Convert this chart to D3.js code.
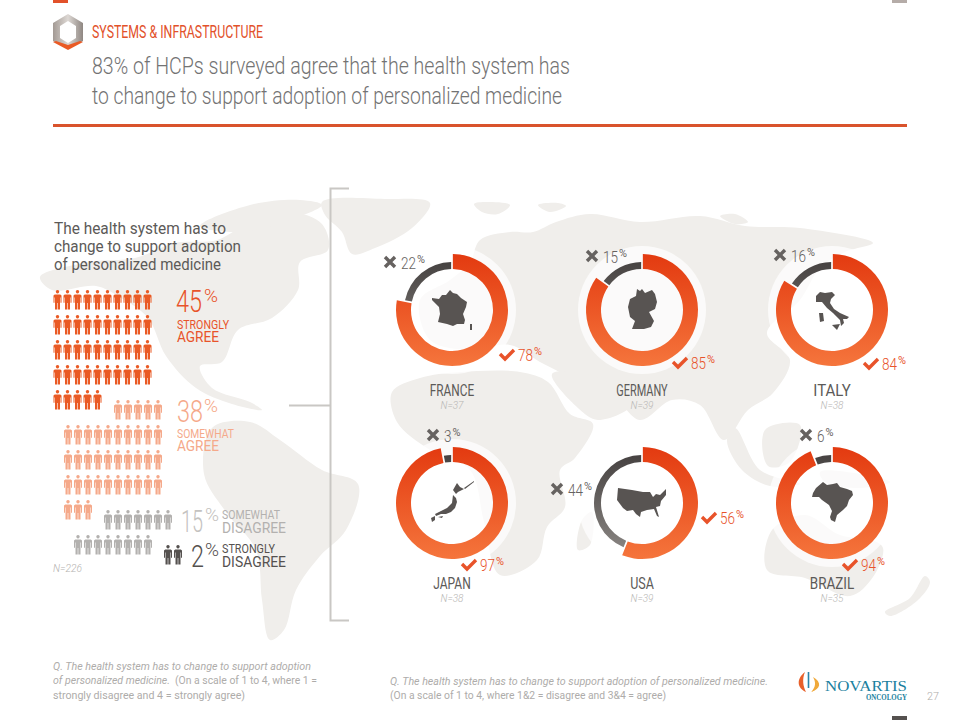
<!DOCTYPE html>
<html>
<head>
<meta charset="utf-8">
<title>Systems &amp; Infrastructure</title>
<script src="https://cdn.jsdelivr.net/npm/d3@7"></script>
<style>
    html, body { margin: 0; padding: 0; background: #fff; }
    svg { display: block; }
    text { font-family: "Roboto", sans-serif; font-weight: 300; }
</style>
</head>
<body>
<svg id="chart" width="960" height="720"></svg>
<script>
// survey values
var pictoNames = ["STRONGLY AGREE", "SOMEWHAT AGREE", "SOMEWHAT DISAGREE", "STRONGLY DISAGREE"];
var pictoValues = [45, 38, 15, 2];
var countries = ["FRANCE", "GERMANY", "ITALY", "JAPAN", "USA", "BRAZIL"];
var agreeValues = [78, 85, 84, 97, 56, 94];
var disagreeValues = [22, 15, 16, 3, 44, 6];
var sampleSizes = [37, 39, 38, 38, 39, 35];

var ORANGE = "#e8532a", SALMON = "#f5a98a", GREY = "#b3b1af", DARK = "#55514f";

var svg = d3.select("#chart");
var defs = svg.append("defs");
var line = d3.line().curve(d3.curveCatmullRomClosed.alpha(0.5));
var sharp = d3.line().curve(d3.curveLinearClosed);

// background world map, just a rough hand traced backdrop
var landOutlines = [
    // north america
    [[40, 277], [90, 262], [135, 258], [175, 243], [217, 240], [250, 222], [290, 212], [322, 224], [328, 250], [300, 262], [298, 290], [272, 318], [238, 330], [222, 362], [200, 366], [212, 388], [250, 402], [262, 410], [232, 404], [196, 388], [166, 356], [148, 318], [118, 296], [96, 286], [52, 290]],
    // greenland
    [[322, 202], [385, 199], [430, 203], [412, 228], [375, 248], [352, 254], [342, 232], [325, 215]],
    // canadian islands
    [[200, 226], [250, 205], [300, 200], [322, 205], [290, 220], [240, 232]],
    // south america
    [[212, 428], [250, 422], [280, 440], [322, 470], [358, 484], [346, 530], [320, 556], [296, 590], [284, 630], [270, 640], [262, 600], [256, 550], [226, 512], [204, 474]],
    // iceland and svalbard
    [[474, 204], [490, 202], [510, 205], [498, 214], [482, 212]],
    [[538, 205], [558, 203], [566, 206], [550, 212]],
    [[720, 216], [735, 214], [748, 222], [735, 224]],
    // europe and asia
    [[480, 240], [510, 232], [533, 232], [556, 222], [590, 214], [640, 222], [700, 216], [745, 226], [800, 228], [873, 243], [845, 252], [820, 268], [800, 300], [767, 333], [790, 360], [773, 393], [748, 410], [724, 440], [700, 405], [672, 400], [640, 420], [612, 398], [590, 416], [570, 380], [540, 362], [510, 345], [470, 350], [430, 340], [420, 300], [450, 280], [470, 262]],
    // africa
    [[397, 422], [392, 392], [420, 378], [460, 372], [520, 372], [548, 382], [570, 414], [593, 424], [575, 458], [560, 470], [565, 507], [547, 527], [537, 560], [500, 575], [484, 522], [470, 470], [430, 450]],
    // arabia
    [[552, 374], [600, 378], [632, 404], [598, 420], [578, 408]],
    // madagascar
    [[582, 520], [592, 512], [590, 545], [578, 550]],
    // indonesia and philippines
    [[727, 440], [735, 428], [760, 470], [800, 484], [770, 486], [742, 470]],
    [[765, 430], [800, 425], [790, 462], [768, 466]],
    [[820, 472], [860, 474], [890, 482], [860, 488], [825, 482]],
    // australia
    [[767, 570], [772, 530], [805, 515], [840, 535], [872, 540], [883, 548], [873, 577], [850, 596], [805, 578]],
    // new zealand
    [[885, 612], [910, 598], [925, 576], [930, 582], [918, 600], [890, 616]]
];

svg.append("g").selectAll("path")
    .data(landOutlines)
    .enter().append("path")
    .attr("d", function (d) { return line(d); })
    .attr("fill", "#f0eeeb");

// bits of page furniture
function rect(x, y, w, h, fill) {
    svg.append("rect").attr("x", x).attr("y", y).attr("width", w).attr("height", h).attr("fill", fill);
}
rect(53, 0, 15, 3, "#e2512a");
rect(892, 0, 15, 3, "#b5aca8");
rect(892, 716, 15, 4, "#55514f");
rect(53, 124, 854, 3, "#d9532c");

function label(str, x, y, size, fill, width, opts) {
    opts = opts || {};
    var t = svg.append("text")
        .attr("x", x)
        .attr("y", y)
        .attr("font-size", size)
        .attr("fill", fill)
        .attr("text-anchor", opts.anchor || "start")
        .text(str);
    if (opts.italic) t.attr("font-style", "italic");
    if (opts.weight) t.style("font-weight", opts.weight);
    if (opts.family) t.style("font-family", opts.family);
    if (width) t.attr("textLength", width).attr("lengthAdjust", "spacingAndGlyphs");
    return t;
}

// hexagon badge
var hexGrad = defs.append("linearGradient").attr("id", "hexGrad").attr("x1", 0).attr("x2", 1).attr("y1", 0).attr("y2", 0);
hexGrad.append("stop").attr("offset", 0).attr("stop-color", "#a39a94");
hexGrad.append("stop").attr("offset", 0.5).attr("stop-color", "#ddd8d4");
hexGrad.append("stop").attr("offset", 1).attr("stop-color", "#8f8782");
svg.append("path").attr("fill", "url(#hexGrad)").attr("fill-rule", "evenodd")
    .attr("d", "M68,14L83,23V41L68,49L53,41V23ZM68,21L60,26V38L68,43L76,38V26Z");
svg.append("path").attr("fill", "#ea5a24").attr("d", "M56,41L68,45L80,41L83,42L68,50L53,42Z");

label("SYSTEMS & INFRASTRUCTURE", 92, 38, 18, "#e2512a", 171, { weight: 400 });
label("83% of HCPs surveyed agree that the health system has", 92, 74, 23, "#737373", 478);
label("to change to support adoption of personalized medicine", 92, 104, 23, "#737373", 470);

// bracket between the left panel and the donuts
svg.append("path")
    .attr("d", "M349,188.5H330.5V620.5H349M289,405.5H330")
    .attr("fill", "none")
    .attr("stroke", "#c9c7c4")
    .attr("stroke-width", 2);

label("The health system has to", 54, 234, 16, "#5c5a58", 172, { weight: 400 });
label("change to support adoption", 54, 252, 16, "#5c5a58", 187, { weight: 400 });
label("of personalized medicine", 54, 270, 16, "#5c5a58", 167, { weight: 400 });

// pictogram, one little person for each percentage point
var pictoLayout = [
    { x0: 57.5, startCol: 0, y0: 290, fill: "#ea5a24" },
    { x0: 68, startCol: 5, y0: 400, fill: SALMON },
    { x0: 78, startCol: 3, y0: 510, fill: GREY },
    { x0: 168, startCol: 0, y0: 545, fill: DARK }
];
var personPath = "M0,0a1.7,1.7 0 1,1 -0.01,0Z" +
    "M-2.8,4.4H2.8L4,5.6V12.8H3V7.6H2.5V19.4H0.3V13H-0.3V19.4H-2.5V7.6H-3V12.8H-4V5.6Z";

var colScale = d3.scaleLinear().domain([0, 9]).range([0, 90]);
var rowScale = d3.scaleLinear().domain([0, 4]).range([0, 100]);

pictoValues.forEach(function (value, g) {
    var lay = pictoLayout[g];
    var people = d3.range(value).map(function (i) {
        var slot = i + lay.startCol;
        return { col: slot % 10, row: Math.floor(slot / 10) };
    });
    svg.append("g")
        .attr("class", "picto")
        .attr("data-name", pictoNames[g])
        .selectAll("path")
        .data(people)
        .enter().append("path")
        .attr("d", personPath)
        .attr("fill", lay.fill)
        .attr("transform", function (d) {
            return "translate(" + (lay.x0 + colScale(d.col)) + "," + (lay.y0 + rowScale(d.row)) + ")";
        });
});

label(pictoValues[0], 176, 312, 32, ORANGE, 26);
label("%", 204, 302, 19, ORANGE, 14);
label("STRONGLY", 177, 329, 13, ORANGE, 52, { weight: 400 });
label("AGREE", 177, 342, 15, ORANGE, 42, { weight: 400 });

label(pictoValues[1], 177, 422, 32, SALMON, 26);
label("%", 204, 412, 19, SALMON, 14);
label("SOMEWHAT", 177, 438, 13, SALMON, 57, { weight: 400 });
label("AGREE", 177, 451, 15, SALMON, 42, { weight: 400 });

label(pictoValues[2], 181, 532, 32, "#c4c2c0", 22);
label("%", 205, 521, 19, "#c4c2c0", 14);
label("SOMEWHAT", 222, 519, 13, GREY, 58, { weight: 400 });
label("DISAGREE", 222, 533, 15, GREY, 64, { weight: 400 });

label(pictoValues[3], 191, 567, 32, DARK, 13);
label("%", 205, 556, 19, DARK, 14);
label("STRONGLY", 222, 553, 13, DARK, 53, { weight: 400 });
label("DISAGREE", 222, 567, 15, DARK, 64, { weight: 400 });

label("N=226", 53, 572, 11, "#b5b3b1", 29, { italic: true });

// donuts
var xScale = d3.scalePoint().domain([0, 1, 2]).range([452, 832]);
var yScale = d3.scalePoint().domain([0, 1]).range([310, 503]);

var gradAgree = defs.append("linearGradient").attr("id", "gradAgree").attr("gradientUnits", "userSpaceOnUse")
    .attr("x1", 0).attr("x2", 0).attr("y1", -56).attr("y2", 56);
gradAgree.append("stop").attr("offset", 0).attr("stop-color", "#e33a10");
gradAgree.append("stop").attr("offset", 1).attr("stop-color", "#f5753c");
var gradNo = defs.append("linearGradient").attr("id", "gradNo").attr("gradientUnits", "userSpaceOnUse")
    .attr("x1", 0).attr("x2", 0).attr("y1", -50).attr("y2", 50);
gradNo.append("stop").attr("offset", 0).attr("stop-color", "#454140");
gradNo.append("stop").attr("offset", 1).attr("stop-color", "#8a8683");

var pie = d3.pie().sort(null).startAngle(0).endAngle(2 * Math.PI).value(function (d) { return d; });
var agreeArc = d3.arc().innerRadius(41).outerRadius(56).padAngle(0.03).padRadius(56);
var noArc = d3.arc().innerRadius(41).outerRadius(48).padAngle(0.03).padRadius(56);

// where the little x and check labels sit, relative to each donut centre
var noOffset = [[-62, -48], [-50, -54], [-52, -55], [-19, -68], [-85, -14], [-26, -68]];
var yesOffset = [[55, 45], [38, 53], [39, 54], [17, 62], [67, 15], [18, 62]];

// rough silhouettes, relative to the donut centre
var shapes = [
    [[[-2, -20], [1, -17], [5, -16], [9, -12], [15, -8], [14, -3], [11, 4], [13, 10], [12, 14], [5, 14], [1, 16], [-5, 14], [-14, 12], [-12, 4], [-13, -3], [-20, -10], [-20, -12], [-13, -11], [-10, -15], [-6, -15]], [[18, 14], [20, 14], [20, 20], [18, 20]]],
    [[[-5, -21], [-2, -19], [0, -21], [3, -17], [10, -20], [13, -16], [15, -8], [13, -1], [7, 2], [12, 11], [9, 17], [2, 19], [-10, 19], [-7, 11], [-12, 7], [-14, -3], [-12, -11], [-6, -14]]],
    [[[-16, -14], [-12, -18], [-7, -17], [0, -18], [3, -15], [-1, -11], [-2, -7], [2, -1], [8, 3], [17, 7], [15, 9], [11, 9], [12, 13], [9, 16], [8, 10], [1, 3], [-5, -2], [-10, -8], [-16, -8]], [[-13, 3], [-9, 3], [-8, 11], [-12, 12]], [[0, 15], [8, 14], [5, 20]]],
    [[[5, -20], [8, -16], [12, -14], [6, -11], [4, -9], [1, -13]], [[12, -15], [22, -22], [22, -21], [13, -14]], [[1, -8], [4, -5], [5, -1], [3, 5], [-1, 9], [-6, 11], [-11, 11], [-16, 13], [-17, 11], [-11, 8], [-5, 5], [0, 0]], [[-21, 15], [-17, 13], [-17, 17], [-20, 19]], [[-14, 14], [-9, 13], [-10, 15]]],
    [[[-24, -15], [-10, -13], [1, -11], [8, -11], [11, -6], [14, -9], [18, -8], [24, -14], [24, -8], [19, -2], [18, 3], [14, 4], [17, 14], [15, 13], [12, 6], [5, 7], [-1, 9], [-2, 14], [-6, 11], [-9, 7], [-15, 8], [-19, 5], [-25, -3]]],
    [[[-9, -21], [-5, -18], [1, -19], [5, -20], [8, -16], [15, -14], [20, -12], [21, -8], [17, -3], [15, 3], [11, 7], [5, 12], [3, 19], [-1, 17], [-2, 14], [0, 8], [-3, 2], [-10, -3], [-13, -6], [-20, -6], [-19, -10], [-16, -15]]]
];

function xIcon(x, y) {
    svg.append("path")
        .attr("d", "M-5,-5L5,5M5,-5L-5,5")
        .attr("transform", "translate(" + x + "," + y + ")")
        .attr("stroke", "#666260")
        .attr("stroke-width", 3.4)
        .attr("fill", "none");
}

function checkIcon(x, y) {
    svg.append("path")
        .attr("d", "M-7,-1L-2,4L7,-5")
        .attr("transform", "translate(" + x + "," + y + ")")
        .attr("stroke", ORANGE)
        .attr("stroke-width", 3.4)
        .attr("fill", "none");
}

countries.forEach(function (name, i) {
    var cx = xScale(i % 3);
    var cy = yScale(Math.floor(i / 3));

    var g = svg.append("g").attr("transform", "translate(" + cx + "," + cy + ")");
    g.append("circle").attr("r", 64).attr("fill", "#fff").attr("opacity", 0.72);

    var slices = pie([agreeValues[i], disagreeValues[i]]);
    g.append("path").attr("d", agreeArc(slices[0])).attr("fill", "url(#gradAgree)");
    g.append("path").attr("d", noArc(slices[1])).attr("fill", "url(#gradNo)");

    g.selectAll("path.shape")
        .data(shapes[i])
        .enter().append("path")
        .attr("class", "shape")
        .attr("d", function (d) { return sharp(d); })
        .attr("fill", "#585452");

    var no = noOffset[i];
    var yes = yesOffset[i];
    var noStr = String(disagreeValues[i]);
    var noW = noStr.length * 7.5;
    xIcon(cx + no[0], cy + no[1]);
    label(noStr, cx + no[0] + 11, cy + no[1] + 7, 17, "#666260", noW);
    label("%", cx + no[0] + 11 + noW + 1, cy + no[1] + 1, 10, "#666260", 8, { weight: 400 });

    checkIcon(cx + yes[0], cy + yes[1]);
    label(agreeValues[i], cx + yes[0] + 11, cy + yes[1] + 6, 17, ORANGE, 15);
    label("%", cx + yes[0] + 27, cy + yes[1], 10, ORANGE, 8, { weight: 400 });

    label(name, cx, cy + 86, 16, "#5c5a58", name.length * 6.9 + 3, { anchor: "middle", weight: 400 });
    label("N=" + sampleSizes[i], cx, cy + 99, 10.5, "#b9b7b5", 23, { anchor: "middle", italic: true });
});

// footnotes
var NOTE = "#aeacaa";
label("Q. The health system has to change to support adoption", 53, 670, 10.5, NOTE, 258, { italic: true, weight: 400 });
label("of personalized medicine.", 53, 684, 10.5, NOTE, 117, { italic: true, weight: 400 });
label("(On a scale of 1 to 4, where 1 =", 175, 684, 10.5, NOTE, 142, { weight: 400 });
label("strongly disagree and 4 = strongly agree)", 53, 699, 10.5, NOTE, 192, { weight: 400 });
label("Q. The health system has to change to support adoption of personalized medicine.", 390, 685, 10.5, NOTE, 378, { italic: true, weight: 400 });
label("(On a scale of 1 to 4, where 1&2 = disagree and 3&4 = agree)", 390, 699, 10.5, NOTE, 276, { weight: 400 });

// novartis logo
svg.append("path").attr("d", "M805,672C796,679 797,688 806,692C803,686 802,679 805,672Z").attr("fill", "#e8602a");
svg.append("path").attr("d", "M813,677C822,682 821,689 811,692C816,687 816,682 813,677Z").attr("fill", "#f0a93a");
svg.append("path").attr("d", "M808.5,672V688").attr("stroke", "#2b84a8").attr("stroke-width", 1.6);
label("NOVARTIS", 825, 691, 15, "#1b7f9e", 82, { family: "Liberation Serif", weight: 400 });
label("ONCOLOGY", 866, 700, 7.5, "#1b7f9e", 41, { family: "Liberation Serif", weight: 700 });
label("27", 927, 700, 11, "#b0aeac", 12);
</script>
</body>
</html>
